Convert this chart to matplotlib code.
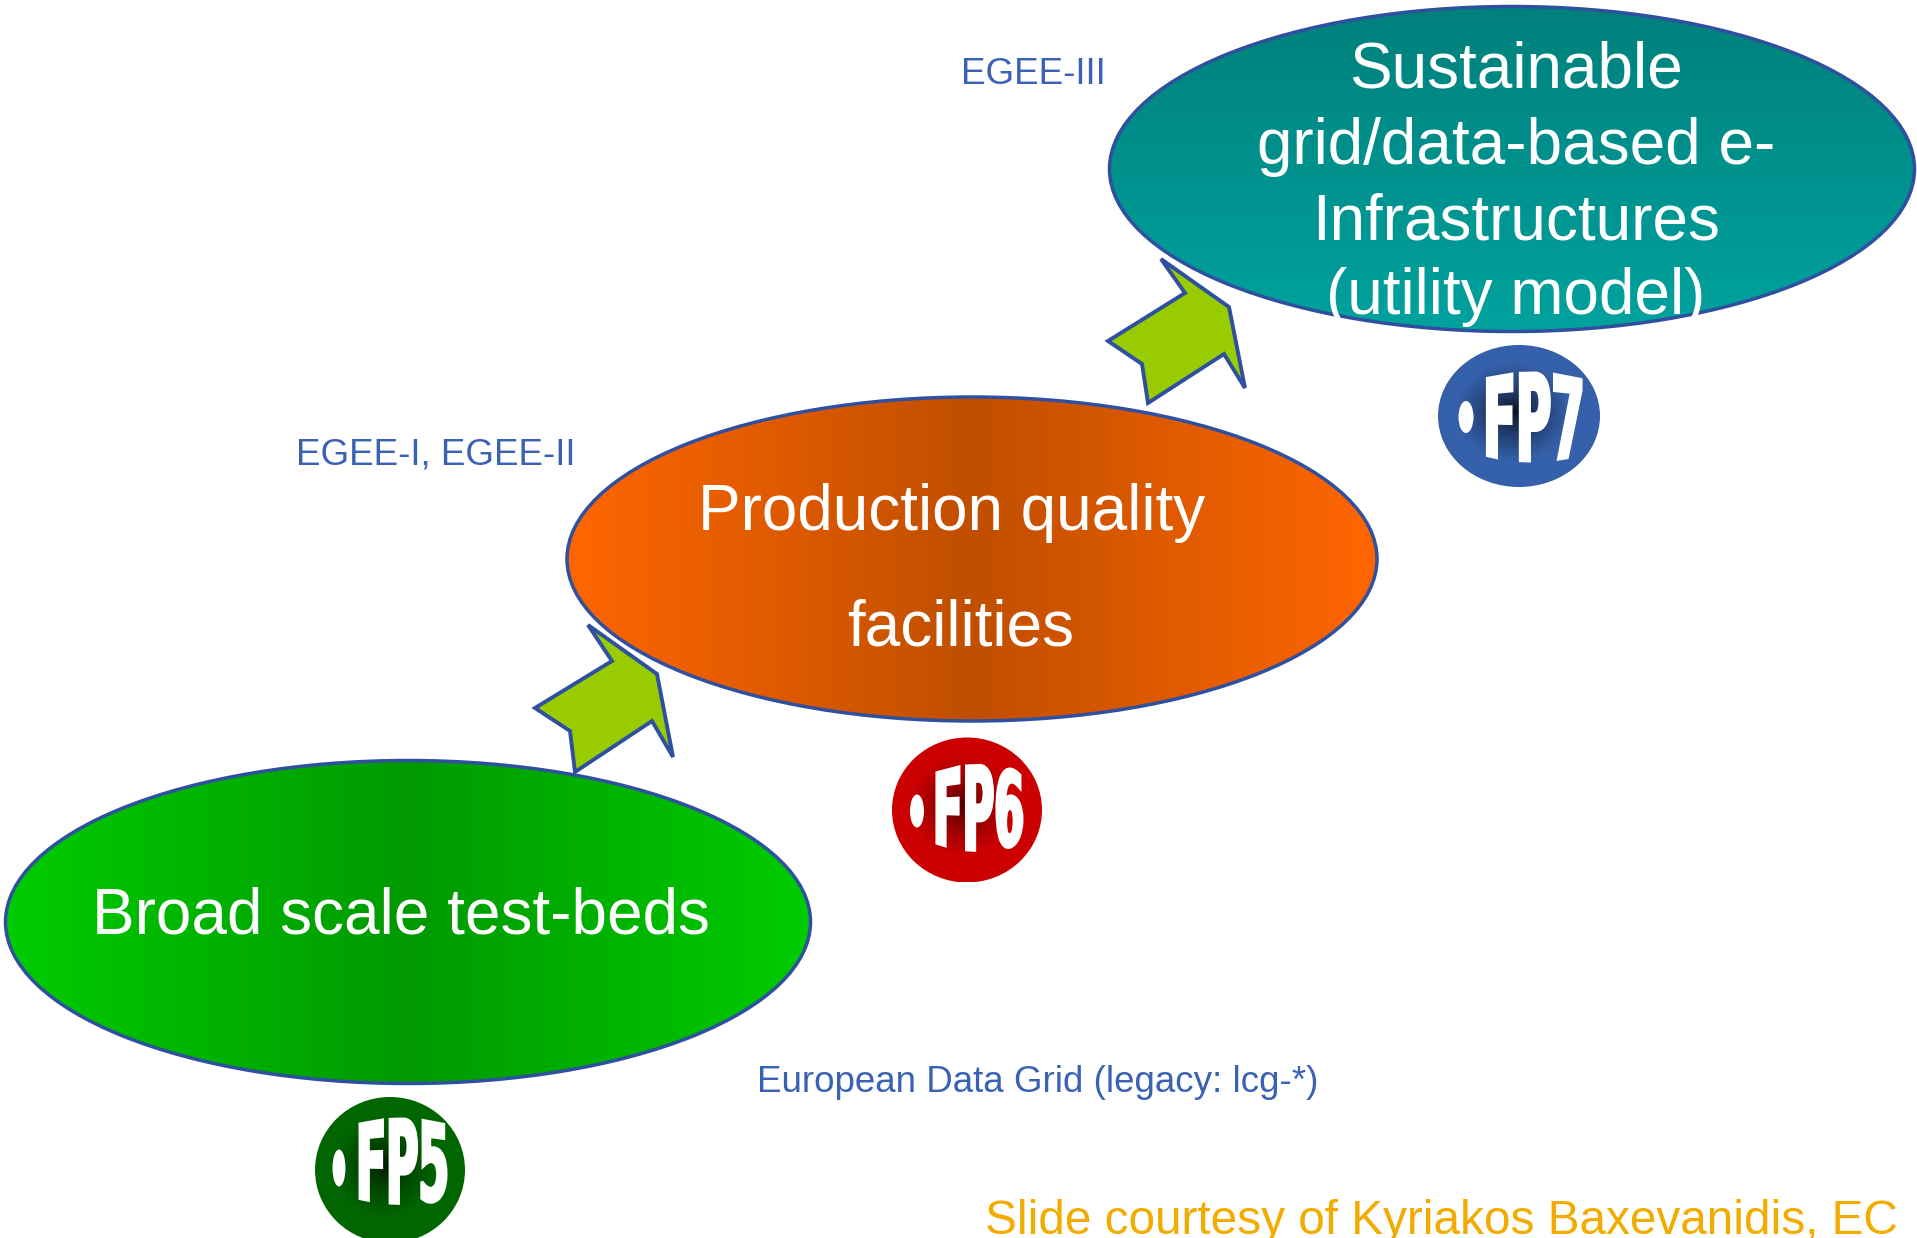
"""
FP5 -> FP6 -> FP7 grid infrastructure roadmap
"""

import numpy as np
import matplotlib
matplotlib.use("Agg")
import matplotlib.pyplot as plt
from matplotlib.patches import Ellipse, Polygon, PathPatch
from matplotlib.textpath import TextPath
from matplotlib.font_manager import FontProperties
from matplotlib.colors import to_rgb
from matplotlib.path import Path

plt.rcParams["font.family"] = ["Liberation Sans", "DejaVu Sans"]

W, H = 1917, 1238

# content
stage_lines = [
    ["Broad scale test-beds"],
    ["Production quality", "facilities"],
    ["Sustainable", "grid/data-based e-", "Infrastructures", "(utility model)"],
]
project_labels = ["European Data Grid (legacy: lcg-*)", "EGEE-I, EGEE-II", "EGEE-III"]
programmes = ["FP5", "FP6", "FP7"]
credit = "Slide courtesy of Kyriakos Baxevanidis, EC"

# layout (pixel coords, y downwards)
stage_centers = [(408, 922), (972, 559), (1512, 169)]
stage_sizes = [(805, 323), (810, 324), (805, 325)]
stage_baselines = [[933], [530, 646], [87, 164, 239, 314]]
stage_text_x = [[401], [952, 961], [1516, 1516, 1516, 1516]]
stage_colors = [("#00cc00", "#009900", "h"), ("#ff6600", "#c04f00", "h"), ("#00807c", "#00a29e", "v")]

project_pos = [(757, 1082), (296, 455), (961, 74)]

badge_centers = [(390, 1170), (967, 810), (1519, 416)]
badge_sizes = [(150, 146), (150, 145), (162, 142)]
badge_colors = [("#006600", "#001800"), ("#cc0000", "#4a0000"), ("#3560aa", "#060c18")]
badge_dots = [(339, 1168, 13, 37), (917, 811, 14, 33), (1466, 417, 15, 32)]
badge_text_box = [(356, 446, 1162, 86, 74), (933, 1022, 808, 88, 70), (1483, 1581, 417, 88, 75)]

# block arrows: barb, head corner, barb, notch, tail..., inner notch
arrows = [
    [(588, 625), (657, 674), (673, 757), (652, 721), (575, 772), (570, 731), (535, 708), (612, 661)],
    [(1161, 259), (1229, 307), (1245, 388), (1224, 354), (1148, 403), (1142, 364), (1108, 341), (1185, 293)],
]

OUTLINE = "#2f4f9f"
BLUE_TEXT = "#3a62b4"


def gradient_image(ax, patch, x0, x1, y0, y1, func):
    nx, ny = 300, 300
    xs = np.linspace(x0, x1, nx)
    ys = np.linspace(y0, y1, ny)
    X, Y = np.meshgrid(xs, ys)
    img = func(X, Y)
    im = ax.imshow(img, extent=(x0, x1, y1, y0), origin="upper", interpolation="bilinear", zorder=2)
    im.set_clip_path(patch)


def mix(c1, c2, t):
    a = np.array(to_rgb(c1))
    b = np.array(to_rgb(c2))
    return a + (b - a) * t[..., None]


fig = plt.figure(figsize=(W / 100, H / 100), dpi=100)
ax = fig.add_axes([0, 0, 1, 1])
ax.set_xlim(0, W)
ax.set_ylim(H, 0)
ax.axis("off")

# big ellipses
for (cx, cy), (w, h), (edge_c, mid_c, mode), lines, bls, txs in zip(
        stage_centers, stage_sizes, stage_colors, stage_lines, stage_baselines, stage_text_x):
    e = Ellipse((cx, cy), w, h, facecolor="none", edgecolor="none")
    ax.add_patch(e)
    if mode == "h":
        f = lambda X, Y, cx=cx, w=w, a=edge_c, b=mid_c: mix(b, a, np.clip(np.abs(X - cx) / (w / 2), 0, 1))
    else:
        f = lambda X, Y, cy=cy, h=h, a=edge_c, b=mid_c: mix(a, b, np.clip((Y - (cy - h / 2)) / h, 0, 1))
    gradient_image(ax, e, cx - w / 2, cx + w / 2, cy - h / 2, cy + h / 2, f)
    ax.add_patch(Ellipse((cx, cy), w, h, facecolor="none", edgecolor=OUTLINE, lw=2.5, zorder=3))
    for line, bl, tx in zip(lines, bls, txs):
        ax.text(tx, bl, line, color="white", fontsize=46, ha="center", va="baseline", zorder=4)

# arrows
for pts in arrows:
    ax.add_patch(Polygon(pts, closed=True, facecolor="#99cc00", edgecolor=OUTLINE, lw=2.8,
                         joinstyle="miter", zorder=3))

# FP badges
fp = FontProperties(family="DejaVu Sans", weight="bold")
for name, (cx, cy), (w, h), (edge_c, mid_c), dot, box in zip(
        programmes, badge_centers, badge_sizes, badge_colors, badge_dots, badge_text_box):
    e = Ellipse((cx, cy), w, h, facecolor="none", edgecolor="none")
    ax.add_patch(e)
    gx, gy = cx - 5, cy - 4
    f = lambda X, Y, gx=gx, gy=gy, w=w, h=h, a=edge_c, b=mid_c: mix(
        b, a, np.clip(np.hypot((X - gx) / (w / 2), (Y - gy) / (h / 2)) / 0.7, 0, 1) ** 0.7)
    gradient_image(ax, e, cx - w / 2, cx + w / 2, cy - h / 2, cy + h / 2, f)

    dx, dy, dw, dh = dot
    ax.add_patch(Ellipse((dx, dy), dw, dh, facecolor="white", edgecolor="none", zorder=5))

    x0, x1, yc, hmid, hedge = box
    tp = TextPath((0, 0), name, size=100, prop=fp)
    v = tp.vertices.copy()
    bx0, by0 = v[:, 0].min(), v[:, 1].min()
    bw, bh = v[:, 0].max() - bx0, v[:, 1].max() - by0
    nx = x0 + (v[:, 0] - bx0) / bw * (x1 - x0)
    ny = yc + hedge / 2 - (v[:, 1] - by0) / bh * hedge
    u = (nx - (x0 + x1) / 2) / ((x1 - x0) / 2)
    k = hmid / hedge - 1
    ny = yc + (ny - yc) * (1 + k * (1 - u ** 2))
    path = Path(np.column_stack([nx, ny]), tp.codes)
    ax.add_patch(PathPatch(path, facecolor="white", edgecolor="white", lw=2.2,
                           joinstyle="miter", zorder=5))

# project labels
for label, (x, y) in zip(project_labels, project_pos):
    ax.text(x, y, label, color=BLUE_TEXT, fontsize=26.5, ha="left", va="center", zorder=6)

ax.text(985, 1234, credit, color="#f2ac00", fontsize=34.4, ha="left", va="baseline", zorder=6)

fig.savefig("out.png", dpi=100, facecolor="white")
plt.close(fig)
